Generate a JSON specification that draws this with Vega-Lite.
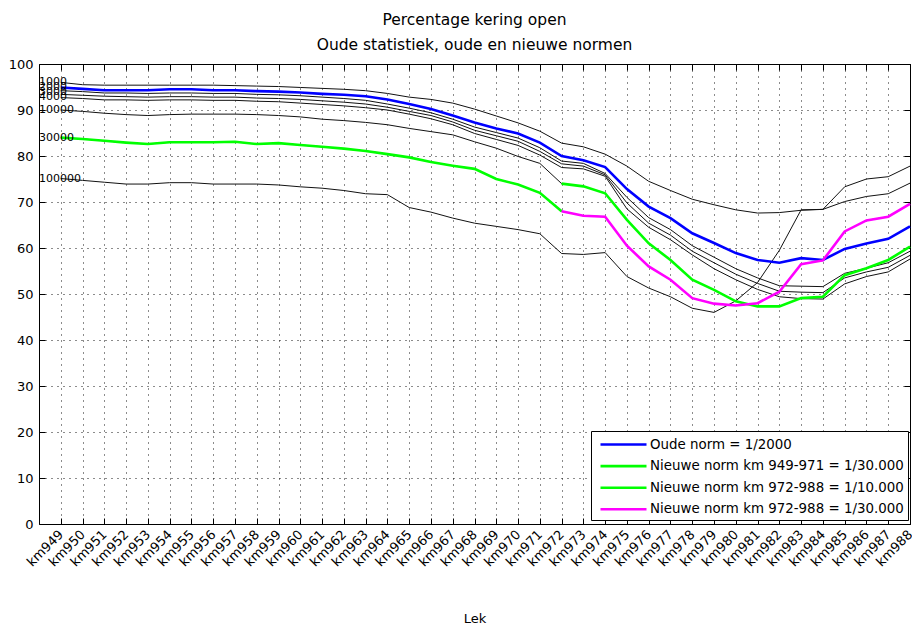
{
 "$schema": "https://vega.github.io/schema/vega-lite/v6.json",
 "width": 871, "height": 460,
 "autosize": {"type": "none"},
 "padding": {"left": 39, "top": 64, "right": 2, "bottom": 102},
 "background": "white",
 "title": {"text": ["Percentage kering open", "Oude statistiek, oude en nieuwe normen"], "font": "DejaVu Sans", "fontSize": 15.5, "fontWeight": "normal", "color": "black", "anchor": "middle", "offset": 5, "lineHeight": 25},
 "datasets": {
  "pts": [
{"km":949,"s":"1000","v":96.0},{"km":950,"s":"1000","v":95.5},{"km":951,"s":"1000","v":95.4},{"km":952,"s":"1000","v":95.4},{"km":953,"s":"1000","v":95.4},{"km":954,"s":"1000","v":95.4},{"km":955,"s":"1000","v":95.4},{"km":956,"s":"1000","v":95.4},{"km":957,"s":"1000","v":95.3},{"km":958,"s":"1000","v":95.2},{"km":959,"s":"1000","v":95.1},{"km":960,"s":"1000","v":94.9},{"km":961,"s":"1000","v":94.7},{"km":962,"s":"1000","v":94.5},{"km":963,"s":"1000","v":94.2},{"km":964,"s":"1000","v":93.6},{"km":965,"s":"1000","v":92.8},{"km":966,"s":"1000","v":92.3},{"km":967,"s":"1000","v":91.5},{"km":968,"s":"1000","v":90.2},{"km":969,"s":"1000","v":88.7},{"km":970,"s":"1000","v":87.2},{"km":971,"s":"1000","v":85.4},{"km":972,"s":"1000","v":82.8},{"km":973,"s":"1000","v":82.0},{"km":974,"s":"1000","v":80.4},{"km":975,"s":"1000","v":77.8},{"km":976,"s":"1000","v":74.5},{"km":977,"s":"1000","v":72.5},{"km":978,"s":"1000","v":70.6},{"km":979,"s":"1000","v":69.4},{"km":980,"s":"1000","v":68.3},{"km":981,"s":"1000","v":67.6},{"km":982,"s":"1000","v":67.7},{"km":983,"s":"1000","v":68.2},{"km":984,"s":"1000","v":68.4},{"km":985,"s":"1000","v":73.3},{"km":986,"s":"1000","v":75.0},{"km":987,"s":"1000","v":75.5},{"km":988,"s":"1000","v":77.8},
{"km":949,"s":"3000","v":94.2},{"km":950,"s":"3000","v":94.0},{"km":951,"s":"3000","v":93.7},{"km":952,"s":"3000","v":93.7},{"km":953,"s":"3000","v":93.6},{"km":954,"s":"3000","v":93.7},{"km":955,"s":"3000","v":93.7},{"km":956,"s":"3000","v":93.6},{"km":957,"s":"3000","v":93.6},{"km":958,"s":"3000","v":93.4},{"km":959,"s":"3000","v":93.3},{"km":960,"s":"3000","v":93.1},{"km":961,"s":"3000","v":92.8},{"km":962,"s":"3000","v":92.5},{"km":963,"s":"3000","v":92.1},{"km":964,"s":"3000","v":91.3},{"km":965,"s":"3000","v":90.4},{"km":966,"s":"3000","v":89.4},{"km":967,"s":"3000","v":88.0},{"km":968,"s":"3000","v":86.3},{"km":969,"s":"3000","v":85.1},{"km":970,"s":"3000","v":83.9},{"km":971,"s":"3000","v":81.8},{"km":972,"s":"3000","v":78.9},{"km":973,"s":"3000","v":78.4},{"km":974,"s":"3000","v":76.2},{"km":975,"s":"3000","v":71.0},{"km":976,"s":"3000","v":66.6},{"km":977,"s":"3000","v":64.0},{"km":978,"s":"3000","v":60.5},{"km":979,"s":"3000","v":58.0},{"km":980,"s":"3000","v":55.5},{"km":981,"s":"3000","v":53.5},{"km":982,"s":"3000","v":51.8},{"km":983,"s":"3000","v":51.7},{"km":984,"s":"3000","v":51.6},{"km":985,"s":"3000","v":54.5},{"km":986,"s":"3000","v":55.6},{"km":987,"s":"3000","v":56.8},{"km":988,"s":"3000","v":59.3},
{"km":949,"s":"4000","v":93.4},{"km":950,"s":"4000","v":93.2},{"km":951,"s":"4000","v":93.0},{"km":952,"s":"4000","v":92.9},{"km":953,"s":"4000","v":92.8},{"km":954,"s":"4000","v":92.9},{"km":955,"s":"4000","v":92.9},{"km":956,"s":"4000","v":92.8},{"km":957,"s":"4000","v":92.8},{"km":958,"s":"4000","v":92.6},{"km":959,"s":"4000","v":92.5},{"km":960,"s":"4000","v":92.3},{"km":961,"s":"4000","v":92.0},{"km":962,"s":"4000","v":91.7},{"km":963,"s":"4000","v":91.3},{"km":964,"s":"4000","v":90.6},{"km":965,"s":"4000","v":89.7},{"km":966,"s":"4000","v":88.8},{"km":967,"s":"4000","v":87.4},{"km":968,"s":"4000","v":85.6},{"km":969,"s":"4000","v":84.4},{"km":970,"s":"4000","v":83.2},{"km":971,"s":"4000","v":81.0},{"km":972,"s":"4000","v":78.3},{"km":973,"s":"4000","v":77.8},{"km":974,"s":"4000","v":75.9},{"km":975,"s":"4000","v":69.8},{"km":976,"s":"4000","v":65.4},{"km":977,"s":"4000","v":62.8},{"km":978,"s":"4000","v":59.3},{"km":979,"s":"4000","v":56.8},{"km":980,"s":"4000","v":54.3},{"km":981,"s":"4000","v":52.3},{"km":982,"s":"4000","v":50.6},{"km":983,"s":"4000","v":50.4},{"km":984,"s":"4000","v":50.3},{"km":985,"s":"4000","v":53.5},{"km":986,"s":"4000","v":54.8},{"km":987,"s":"4000","v":55.8},{"km":988,"s":"4000","v":58.4},
{"km":949,"s":"5000","v":92.7},{"km":950,"s":"5000","v":92.5},{"km":951,"s":"5000","v":92.2},{"km":952,"s":"5000","v":92.2},{"km":953,"s":"5000","v":92.1},{"km":954,"s":"5000","v":92.2},{"km":955,"s":"5000","v":92.2},{"km":956,"s":"5000","v":92.1},{"km":957,"s":"5000","v":92.1},{"km":958,"s":"5000","v":91.9},{"km":959,"s":"5000","v":91.8},{"km":960,"s":"5000","v":91.5},{"km":961,"s":"5000","v":91.2},{"km":962,"s":"5000","v":90.9},{"km":963,"s":"5000","v":90.5},{"km":964,"s":"5000","v":90.0},{"km":965,"s":"5000","v":89.1},{"km":966,"s":"5000","v":88.1},{"km":967,"s":"5000","v":86.8},{"km":968,"s":"5000","v":84.9},{"km":969,"s":"5000","v":83.6},{"km":970,"s":"5000","v":82.3},{"km":971,"s":"5000","v":80.2},{"km":972,"s":"5000","v":77.5},{"km":973,"s":"5000","v":77.2},{"km":974,"s":"5000","v":75.6},{"km":975,"s":"5000","v":68.5},{"km":976,"s":"5000","v":64.5},{"km":977,"s":"5000","v":61.8},{"km":978,"s":"5000","v":58.5},{"km":979,"s":"5000","v":55.5},{"km":980,"s":"5000","v":53.1},{"km":981,"s":"5000","v":51.0},{"km":982,"s":"5000","v":49.4},{"km":983,"s":"5000","v":49.0},{"km":984,"s":"5000","v":48.9},{"km":985,"s":"5000","v":52.2},{"km":986,"s":"5000","v":53.8},{"km":987,"s":"5000","v":54.8},{"km":988,"s":"5000","v":57.6},
{"km":949,"s":"10000","v":90.0},{"km":950,"s":"10000","v":89.7},{"km":951,"s":"10000","v":89.3},{"km":952,"s":"10000","v":89.0},{"km":953,"s":"10000","v":88.8},{"km":954,"s":"10000","v":89.0},{"km":955,"s":"10000","v":89.1},{"km":956,"s":"10000","v":89.1},{"km":957,"s":"10000","v":89.1},{"km":958,"s":"10000","v":89.0},{"km":959,"s":"10000","v":88.8},{"km":960,"s":"10000","v":88.5},{"km":961,"s":"10000","v":88.0},{"km":962,"s":"10000","v":87.7},{"km":963,"s":"10000","v":87.3},{"km":964,"s":"10000","v":86.8},{"km":965,"s":"10000","v":86.0},{"km":966,"s":"10000","v":85.3},{"km":967,"s":"10000","v":84.6},{"km":968,"s":"10000","v":83.1},{"km":969,"s":"10000","v":81.7},{"km":970,"s":"10000","v":79.9},{"km":971,"s":"10000","v":78.4},{"km":972,"s":"10000","v":74.0},{"km":973,"s":"10000","v":73.4},{"km":974,"s":"10000","v":71.9},{"km":975,"s":"10000","v":66.1},{"km":976,"s":"10000","v":61.0},{"km":977,"s":"10000","v":57.4},{"km":978,"s":"10000","v":53.1},{"km":979,"s":"10000","v":50.9},{"km":980,"s":"10000","v":48.4},{"km":981,"s":"10000","v":47.3},{"km":982,"s":"10000","v":47.3},{"km":983,"s":"10000","v":49.1},{"km":984,"s":"10000","v":49.4},{"km":985,"s":"10000","v":54.1},{"km":986,"s":"10000","v":55.6},{"km":987,"s":"10000","v":57.4},{"km":988,"s":"10000","v":60.3},
{"km":949,"s":"30000","v":84.0},{"km":950,"s":"30000","v":83.7},{"km":951,"s":"30000","v":83.3},{"km":952,"s":"30000","v":82.9},{"km":953,"s":"30000","v":82.6},{"km":954,"s":"30000","v":83.0},{"km":955,"s":"30000","v":83.0},{"km":956,"s":"30000","v":83.0},{"km":957,"s":"30000","v":83.1},{"km":958,"s":"30000","v":82.6},{"km":959,"s":"30000","v":82.8},{"km":960,"s":"30000","v":82.4},{"km":961,"s":"30000","v":82.0},{"km":962,"s":"30000","v":81.6},{"km":963,"s":"30000","v":81.1},{"km":964,"s":"30000","v":80.4},{"km":965,"s":"30000","v":79.7},{"km":966,"s":"30000","v":78.7},{"km":967,"s":"30000","v":77.9},{"km":968,"s":"30000","v":77.2},{"km":969,"s":"30000","v":75.0},{"km":970,"s":"30000","v":73.8},{"km":971,"s":"30000","v":72.0},{"km":972,"s":"30000","v":68.0},{"km":973,"s":"30000","v":67.0},{"km":974,"s":"30000","v":66.8},{"km":975,"s":"30000","v":60.5},{"km":976,"s":"30000","v":56.0},{"km":977,"s":"30000","v":53.1},{"km":978,"s":"30000","v":49.1},{"km":979,"s":"30000","v":47.9},{"km":980,"s":"30000","v":47.5},{"km":981,"s":"30000","v":48.0},{"km":982,"s":"30000","v":50.5},{"km":983,"s":"30000","v":56.5},{"km":984,"s":"30000","v":57.3},{"km":985,"s":"30000","v":63.6},{"km":986,"s":"30000","v":66.0},{"km":987,"s":"30000","v":66.8},{"km":988,"s":"30000","v":69.6},
{"km":949,"s":"100000","v":75.1},{"km":950,"s":"100000","v":74.7},{"km":951,"s":"100000","v":74.3},{"km":952,"s":"100000","v":73.9},{"km":953,"s":"100000","v":73.9},{"km":954,"s":"100000","v":74.2},{"km":955,"s":"100000","v":74.2},{"km":956,"s":"100000","v":73.9},{"km":957,"s":"100000","v":73.9},{"km":958,"s":"100000","v":73.9},{"km":959,"s":"100000","v":73.7},{"km":960,"s":"100000","v":73.3},{"km":961,"s":"100000","v":73.0},{"km":962,"s":"100000","v":72.5},{"km":963,"s":"100000","v":71.8},{"km":964,"s":"100000","v":71.6},{"km":965,"s":"100000","v":68.8},{"km":966,"s":"100000","v":67.8},{"km":967,"s":"100000","v":66.5},{"km":968,"s":"100000","v":65.4},{"km":969,"s":"100000","v":64.7},{"km":970,"s":"100000","v":64.0},{"km":971,"s":"100000","v":63.1},{"km":972,"s":"100000","v":58.8},{"km":973,"s":"100000","v":58.6},{"km":974,"s":"100000","v":59.0},{"km":975,"s":"100000","v":53.8},{"km":976,"s":"100000","v":51.3},{"km":977,"s":"100000","v":49.4},{"km":978,"s":"100000","v":46.9},{"km":979,"s":"100000","v":46.0},{"km":980,"s":"100000","v":48.5},{"km":981,"s":"100000","v":52.5},{"km":982,"s":"100000","v":59.5},{"km":983,"s":"100000","v":68.3},{"km":984,"s":"100000","v":68.4},{"km":985,"s":"100000","v":70.1},{"km":986,"s":"100000","v":71.2},{"km":987,"s":"100000","v":71.8},{"km":988,"s":"100000","v":74.1},
{"km":949,"s":"Oude norm = 1/2000","v":94.9},{"km":950,"s":"Oude norm = 1/2000","v":94.6},{"km":951,"s":"Oude norm = 1/2000","v":94.3},{"km":952,"s":"Oude norm = 1/2000","v":94.3},{"km":953,"s":"Oude norm = 1/2000","v":94.3},{"km":954,"s":"Oude norm = 1/2000","v":94.5},{"km":955,"s":"Oude norm = 1/2000","v":94.5},{"km":956,"s":"Oude norm = 1/2000","v":94.3},{"km":957,"s":"Oude norm = 1/2000","v":94.3},{"km":958,"s":"Oude norm = 1/2000","v":94.1},{"km":959,"s":"Oude norm = 1/2000","v":94.0},{"km":960,"s":"Oude norm = 1/2000","v":93.8},{"km":961,"s":"Oude norm = 1/2000","v":93.5},{"km":962,"s":"Oude norm = 1/2000","v":93.3},{"km":963,"s":"Oude norm = 1/2000","v":93.0},{"km":964,"s":"Oude norm = 1/2000","v":92.3},{"km":965,"s":"Oude norm = 1/2000","v":91.3},{"km":966,"s":"Oude norm = 1/2000","v":90.2},{"km":967,"s":"Oude norm = 1/2000","v":88.8},{"km":968,"s":"Oude norm = 1/2000","v":87.3},{"km":969,"s":"Oude norm = 1/2000","v":86.0},{"km":970,"s":"Oude norm = 1/2000","v":84.9},{"km":971,"s":"Oude norm = 1/2000","v":82.9},{"km":972,"s":"Oude norm = 1/2000","v":80.0},{"km":973,"s":"Oude norm = 1/2000","v":79.1},{"km":974,"s":"Oude norm = 1/2000","v":77.6},{"km":975,"s":"Oude norm = 1/2000","v":72.8},{"km":976,"s":"Oude norm = 1/2000","v":69.0},{"km":977,"s":"Oude norm = 1/2000","v":66.5},{"km":978,"s":"Oude norm = 1/2000","v":63.2},{"km":979,"s":"Oude norm = 1/2000","v":61.1},{"km":980,"s":"Oude norm = 1/2000","v":58.9},{"km":981,"s":"Oude norm = 1/2000","v":57.4},{"km":982,"s":"Oude norm = 1/2000","v":56.8},{"km":983,"s":"Oude norm = 1/2000","v":57.8},{"km":984,"s":"Oude norm = 1/2000","v":57.4},{"km":985,"s":"Oude norm = 1/2000","v":59.8},{"km":986,"s":"Oude norm = 1/2000","v":61.0},{"km":987,"s":"Oude norm = 1/2000","v":62.0},{"km":988,"s":"Oude norm = 1/2000","v":64.7},
{"km":949,"s":"Nieuwe norm km 949-971 = 1/30.000","v":84.0},{"km":950,"s":"Nieuwe norm km 949-971 = 1/30.000","v":83.7},{"km":951,"s":"Nieuwe norm km 949-971 = 1/30.000","v":83.3},{"km":952,"s":"Nieuwe norm km 949-971 = 1/30.000","v":82.9},{"km":953,"s":"Nieuwe norm km 949-971 = 1/30.000","v":82.6},{"km":954,"s":"Nieuwe norm km 949-971 = 1/30.000","v":83.0},{"km":955,"s":"Nieuwe norm km 949-971 = 1/30.000","v":83.0},{"km":956,"s":"Nieuwe norm km 949-971 = 1/30.000","v":83.0},{"km":957,"s":"Nieuwe norm km 949-971 = 1/30.000","v":83.1},{"km":958,"s":"Nieuwe norm km 949-971 = 1/30.000","v":82.6},{"km":959,"s":"Nieuwe norm km 949-971 = 1/30.000","v":82.8},{"km":960,"s":"Nieuwe norm km 949-971 = 1/30.000","v":82.4},{"km":961,"s":"Nieuwe norm km 949-971 = 1/30.000","v":82.0},{"km":962,"s":"Nieuwe norm km 949-971 = 1/30.000","v":81.6},{"km":963,"s":"Nieuwe norm km 949-971 = 1/30.000","v":81.1},{"km":964,"s":"Nieuwe norm km 949-971 = 1/30.000","v":80.4},{"km":965,"s":"Nieuwe norm km 949-971 = 1/30.000","v":79.7},{"km":966,"s":"Nieuwe norm km 949-971 = 1/30.000","v":78.7},{"km":967,"s":"Nieuwe norm km 949-971 = 1/30.000","v":77.9},{"km":968,"s":"Nieuwe norm km 949-971 = 1/30.000","v":77.2},{"km":969,"s":"Nieuwe norm km 949-971 = 1/30.000","v":75.0},{"km":970,"s":"Nieuwe norm km 949-971 = 1/30.000","v":73.8},{"km":971,"s":"Nieuwe norm km 949-971 = 1/30.000","v":72.0},{"km":972,"s":"Nieuwe norm km 949-971 = 1/30.000","v":68.0},
{"km":972,"s":"Nieuwe norm km 972-988 = 1/10.000","v":74.0},{"km":973,"s":"Nieuwe norm km 972-988 = 1/10.000","v":73.4},{"km":974,"s":"Nieuwe norm km 972-988 = 1/10.000","v":71.9},{"km":975,"s":"Nieuwe norm km 972-988 = 1/10.000","v":66.1},{"km":976,"s":"Nieuwe norm km 972-988 = 1/10.000","v":61.0},{"km":977,"s":"Nieuwe norm km 972-988 = 1/10.000","v":57.4},{"km":978,"s":"Nieuwe norm km 972-988 = 1/10.000","v":53.1},{"km":979,"s":"Nieuwe norm km 972-988 = 1/10.000","v":50.9},{"km":980,"s":"Nieuwe norm km 972-988 = 1/10.000","v":48.4},{"km":981,"s":"Nieuwe norm km 972-988 = 1/10.000","v":47.3},{"km":982,"s":"Nieuwe norm km 972-988 = 1/10.000","v":47.3},{"km":983,"s":"Nieuwe norm km 972-988 = 1/10.000","v":49.1},{"km":984,"s":"Nieuwe norm km 972-988 = 1/10.000","v":49.4},{"km":985,"s":"Nieuwe norm km 972-988 = 1/10.000","v":54.1},{"km":986,"s":"Nieuwe norm km 972-988 = 1/10.000","v":55.6},{"km":987,"s":"Nieuwe norm km 972-988 = 1/10.000","v":57.4},{"km":988,"s":"Nieuwe norm km 972-988 = 1/10.000","v":60.3},
{"km":972,"s":"Nieuwe norm km 972-988 = 1/30.000","v":68.0},{"km":973,"s":"Nieuwe norm km 972-988 = 1/30.000","v":67.0},{"km":974,"s":"Nieuwe norm km 972-988 = 1/30.000","v":66.8},{"km":975,"s":"Nieuwe norm km 972-988 = 1/30.000","v":60.5},{"km":976,"s":"Nieuwe norm km 972-988 = 1/30.000","v":56.0},{"km":977,"s":"Nieuwe norm km 972-988 = 1/30.000","v":53.1},{"km":978,"s":"Nieuwe norm km 972-988 = 1/30.000","v":49.1},{"km":979,"s":"Nieuwe norm km 972-988 = 1/30.000","v":47.9},{"km":980,"s":"Nieuwe norm km 972-988 = 1/30.000","v":47.5},{"km":981,"s":"Nieuwe norm km 972-988 = 1/30.000","v":48.0},{"km":982,"s":"Nieuwe norm km 972-988 = 1/30.000","v":50.5},{"km":983,"s":"Nieuwe norm km 972-988 = 1/30.000","v":56.5},{"km":984,"s":"Nieuwe norm km 972-988 = 1/30.000","v":57.3},{"km":985,"s":"Nieuwe norm km 972-988 = 1/30.000","v":63.6},{"km":986,"s":"Nieuwe norm km 972-988 = 1/30.000","v":66.0},{"km":987,"s":"Nieuwe norm km 972-988 = 1/30.000","v":66.8},{"km":988,"s":"Nieuwe norm km 972-988 = 1/30.000","v":69.6}
  ],
  "labels": [
   {"km": 948, "t": "1000", "v": 96.0},
   {"km": 948, "t": "2000", "v": 94.9},
   {"km": 948, "t": "3000", "v": 93.9},
   {"km": 948, "t": "4000", "v": 92.9},
   {"km": 948, "t": "10000", "v": 90.0},
   {"km": 948, "t": "30000", "v": 84.0},
   {"km": 948, "t": "100000", "v": 75.1}
  ]
 },
 "layer": [
  {
   "data": {"name": "pts"},
   "transform": [{"filter": {"field": "s", "oneOf": ["1000", "3000", "4000", "5000", "10000", "30000", "100000"]}}],
   "mark": {"type": "line", "color": "#111111", "strokeWidth": 1},
   "encoding": {
    "x": {"field": "km", "type": "quantitative", "scale": {"domain": [948, 988], "nice": false, "zero": false},
     "axis": {"orient": "bottom", "values": [949,950,951,952,953,954,955,956,957,958,959,960,961,962,963,964,965,966,967,968,969,970,971,972,973,974,975,976,977,978,979,980,981,982,983,984,985,986,987,988],
      "labelExpr": "'km' + datum.value", "labelAngle": -45, "labelAlign": "right", "labelBaseline": "middle",
      "labelFont": "DejaVu Sans", "labelFontSize": 13, "labelColor": "black", "labelPadding": 14, "labelDx": -1, "labelOverlap": false, "labelBound": false, "labelFlush": false,
      "tickSize": -6, "tickColor": "black", "domain": false,
      "grid": true, "gridColor": "black", "gridDash": [1, 5], "gridOpacity": 0.9,
      "title": "Lek", "titleFont": "DejaVu Sans", "titleFontSize": 13, "titleFontWeight": "normal", "titleColor": "black", "titleY": 98, "titleBaseline": "alphabetic"}},
    "y": {"field": "v", "type": "quantitative", "scale": {"domain": [0, 100], "nice": false},
     "axis": {"orient": "left", "values": [0,10,20,30,40,50,60,70,80,90,100], "labelFont": "DejaVu Sans", "labelFontSize": 13, "labelColor": "black", "labelPadding": 12,
      "tickSize": -6, "tickColor": "black", "domain": false,
      "grid": true, "gridColor": "black", "gridDash": [1, 5], "gridOpacity": 0.9, "title": null}},
    "detail": {"field": "s"}
   }
  },
  {
   "data": {"name": "pts"},
   "transform": [{"filter": {"field": "s", "oneOf": ["Oude norm = 1/2000", "Nieuwe norm km 949-971 = 1/30.000", "Nieuwe norm km 972-988 = 1/10.000", "Nieuwe norm km 972-988 = 1/30.000"]}}],
   "mark": {"type": "line", "strokeWidth": 2.6},
   "encoding": {
    "x": {"field": "km", "type": "quantitative",
     "axis": {"orient": "top", "values": [949,950,951,952,953,954,955,956,957,958,959,960,961,962,963,964,965,966,967,968,969,970,971,972,973,974,975,976,977,978,979,980,981,982,983,984,985,986,987,988], "labels": false, "tickSize": -6, "tickColor": "black", "domain": false, "grid": false, "title": null}},
    "y": {"field": "v", "type": "quantitative",
     "axis": {"orient": "right", "values": [0,10,20,30,40,50,60,70,80,90,100], "labels": false, "tickSize": -6, "tickColor": "black", "domain": false, "grid": false, "title": null}},
    "color": {"field": "s", "type": "nominal",
     "scale": {"domain": ["Oude norm = 1/2000", "Nieuwe norm km 949-971 = 1/30.000", "Nieuwe norm km 972-988 = 1/10.000", "Nieuwe norm km 972-988 = 1/30.000"], "range": ["#0000ff", "#00ff00", "#00ff00", "#ff00ff"]},
     "legend": {"orient": "none", "legendX": 552, "legendY": 367, "title": null, "symbolType": "M-2.875,0H2.875", "symbolSize": 256, "symbolStrokeWidth": 2.6, "symbolOffset": 19,
      "labelFont": "DejaVu Sans", "labelFontSize": 13.4, "labelColor": "black", "labelLimit": 400, "labelOffset": 17,
      "strokeColor": "black", "fillColor": "white", "padding": 4, "rowPadding": 5.6, "cornerRadius": 0}}
   }
  },
  {
   "data": {"name": "labels"},
   "mark": {"type": "text", "align": "left", "baseline": "middle", "font": "DejaVu Sans", "fontSize": 11, "color": "black"},
   "encoding": {
    "x": {"field": "km", "type": "quantitative", "axis": null},
    "y": {"field": "v", "type": "quantitative", "axis": null},
    "text": {"field": "t"}
   }
  }
 ],
 "resolve": {"axis": {"x": "independent", "y": "independent"}},
 "config": {"view": {"stroke": "black", "strokeWidth": 1}}
}
